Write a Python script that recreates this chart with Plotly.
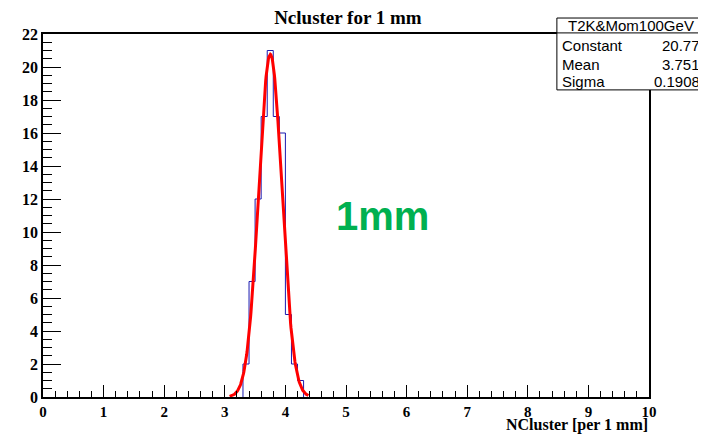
import math
import plotly.graph_objects as go

# Histogram contents (bin width 0.1)
bin_edges = [3.3, 3.4, 3.5, 3.6, 3.7, 3.8, 3.9, 4.0, 4.1, 4.2, 4.3]
counts = [2, 7, 12, 17, 21, 17, 16, 5, 2, 1]

# Gaussian fit result shown in the stats box
fit_name = "T2K&Mom100GeV"
fit_constant = 20.77
fit_mean = 3.751
fit_sigma = 0.1908
fit_range = [3.08, 4.38]

# step outline of the histogram
step_x = [bin_edges[0]] + bin_edges
step_y = [0] + counts + [0]

# fitted function drawn over the fit range
n_pts = 200
fit_x = [fit_range[0] + (fit_range[1] - fit_range[0]) * i / (n_pts - 1) for i in range(n_pts)]
fit_y = [fit_constant * math.exp(-0.5 * ((x - fit_mean) / fit_sigma) ** 2) for x in fit_x]

fig = go.Figure()
fig.add_trace(go.Scatter(x=step_x, y=step_y, mode="lines", line_shape="hv",
                         line=dict(color="#1a1ab0", width=1), hoverinfo="skip"))
fig.add_trace(go.Scatter(x=fit_x, y=fit_y, mode="lines",
                         line=dict(color="#ff0000", width=3), hoverinfo="skip"))

serif = "Liberation Serif"
sans = "Liberation Sans"

axis_common = dict(showgrid=False, zeroline=False, showline=True, linecolor="black",
                   linewidth=1.5, mirror=True, ticks="inside", tickcolor="black",
                   automargin=False)

# the page body has an 8px margin; the figure fills the rest of the window
fig.update_layout(
    width=698, height=427,
    margin=dict(l=35, r=57, t=26, b=38),
    paper_bgcolor="white", plot_bgcolor="white",
    showlegend=False,
    title=dict(text="<b>Ncluster for 1 mm</b>", x=0.487, xanchor="center", y=0.978, yanchor="middle",
               font=dict(family=serif, size=19, color="black")),
    xaxis=dict(range=[0, 10], dtick=1, ticklen=12, tickwidth=1,
               tickfont=dict(family=serif, size=15, color="black", weight="bold"),
               minor=dict(dtick=0.2, ticks="inside", ticklen=6, tickcolor="black"),
               **axis_common),
    yaxis=dict(range=[0, 22], dtick=2, ticklen=18, tickwidth=1,
               tickfont=dict(family=serif, size=16, color="black", weight="bold"),
               minor=dict(dtick=0.5, ticks="inside", ticklen=9, tickcolor="black"),
               **axis_common),
)

# x-axis title, right aligned at the end of the axis, sitting on the bottom edge
fig.add_annotation(text="<b>NCluster [per 1 mm]</b>", xref="paper", yref="paper",
                   x=1.0, y=-0.104, xanchor="right", yanchor="bottom", showarrow=False,
                   borderpad=0, font=dict(family=serif, size=16, color="black"))

# green label
fig.add_annotation(text="<b>1mm</b>", xref="x", yref="y", x=5.6, y=11.0,
                   showarrow=False, font=dict(family=sans, size=40, color="#00b050"))

# stats box
fig.add_shape(type="rect", xref="paper", yref="paper", x0=0.848, x1=1.093, y0=0.846, y1=1.044,
              line=dict(color="black", width=1), fillcolor="white", layer="above")
fig.add_shape(type="line", xref="paper", yref="paper", x0=0.848, x1=1.093, y0=1.003, y1=1.003,
              line=dict(color="black", width=1), layer="above")
fig.add_annotation(text=fit_name, xref="paper", yref="paper", x=0.97, y=1.024,
                   xanchor="center", yanchor="middle", showarrow=False,
                   font=dict(family=sans, size=15, color="black"))
rows = [("Constant", f"{fit_constant:.2f}"), ("Mean", f"{fit_mean:.3f}"), ("Sigma", f"{fit_sigma:.4f}")]
row_y = [0.967, 0.917, 0.868]
for (name, val), yy in zip(rows, row_y):
    fig.add_annotation(text=name, xref="paper", yref="paper", x=0.853, y=yy,
                       xanchor="left", yanchor="middle", showarrow=False,
                       font=dict(family=sans, size=15, color="black"))
    fig.add_annotation(text=val, xref="paper", yref="paper", x=1.087, y=yy,
                       xanchor="right", yanchor="middle", showarrow=False,
                       font=dict(family=sans, size=15, color="black"))

fig.write_html("out.html")
